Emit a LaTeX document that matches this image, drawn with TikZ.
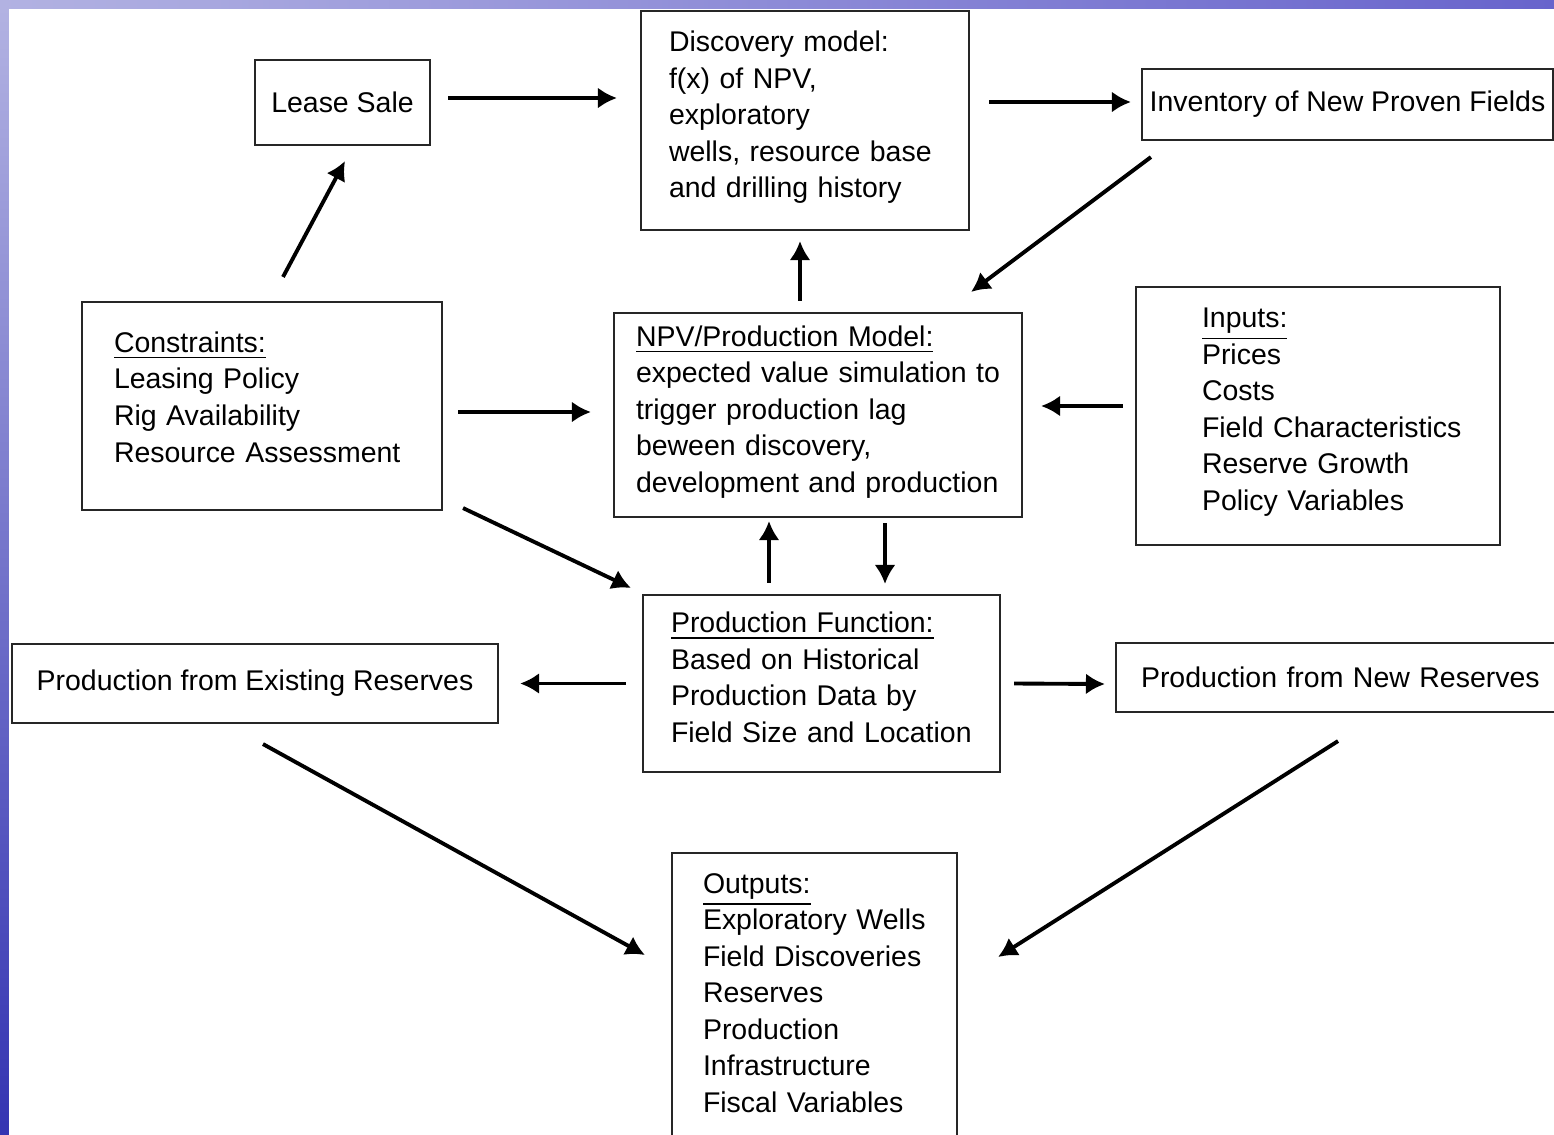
\documentclass[tikz,border=0pt]{standalone}
\usepackage{fontspec}
\setmainfont{Liberation Sans}
\usetikzlibrary{arrows.meta}

\definecolor{bglight}{RGB}{178,178,226}
\definecolor{bgright}{RGB}{104,100,204}
\definecolor{bgbottom}{RGB}{52,52,178}

\tikzset{
	box/.style={draw=black!85, line width=0.6pt, inner sep=0pt, font=\fontsize{8.1}{10.4}\selectfont},
	tbox/.style={box, align=left, execute at begin node=\setlength{\leftskip}{#1}},
	lift/.style={execute at end node=\par\kern#1},
	arr/.style={-{Latex[length=1.9mm,width=2.1mm]}, line width=1.1pt}
}

\begin{document}
\begin{tikzpicture}
	\clip (0,0) rectangle (15.54,-11.34);
	\fill[white] (0,0) rectangle (15.54,-11.34);
	\shade[left color=bglight, right color=bgright] (0,0) rectangle (15.54,-0.08);
	\shade[top color=bglight, bottom color=bgbottom] (0,-0.08) rectangle (0.09,-11.34);
	
	\node[box, minimum width=1.75cm, minimum height=0.85cm] (lease) at (3.425,-1.025) {Lease Sale};
	\node[tbox=0.28cm, lift=0.06cm, text width=3.28cm, minimum height=2.19cm] (disc) at (8.05,-1.205) {Discovery model:\\ f(x) of NPV,\\ exploratory\\ wells, resource base\\ and drilling history};
	\node[box, minimum width=4.11cm, minimum height=0.71cm] (inv) at (13.475,-1.045) {Inventory of New Proven Fields};
	
	\node[tbox=0.32cm, lift=0.18cm, text width=3.60cm, minimum height=2.08cm] (cons) at (2.62,-4.06) {\underline{Constraints:}\\ Leasing Policy\\ Rig Availability\\ Resource Assessment};
	\node[tbox=0.22cm, lift=0.06cm, text width=4.08cm, minimum height=2.04cm] (npv) at (8.18,-4.15) {\underline{NPV/Production Model:}\\ expected value simulation to\\ trigger production lag\\ beween discovery,\\ development and production};
	\node[tbox=0.66cm, lift=0.08cm, text width=3.64cm, minimum height=2.58cm] (inp) at (13.18,-4.16) {\underline{Inputs:}\\ Prices\\ Costs\\ Field Characteristics\\ Reserve Growth\\ Policy Variables};
	
	\node[tbox=0.28cm, lift=0.12cm, text width=3.57cm, minimum height=1.77cm] (prod) at (8.215,-6.835) {\underline{Production Function:}\\ Based on Historical\\ Production Data by\\ Field Size and Location};
	\node[box, minimum width=4.86cm, minimum height=0.79cm] (exist) at (2.55,-6.835) {Production from Existing Reserves};
	\node[tbox=0.25cm, text width=4.60cm, minimum height=0.69cm] (newres) at (13.46,-6.775) {Production from New Reserves};
	
	\node[tbox=0.31cm, lift=0.12cm, text width=2.85cm, minimum height=2.92cm] (outp) at (8.145,-9.99) {\underline{Outputs:}\\ Exploratory Wells\\ Field Discoveries\\ Reserves\\ Production\\ Infrastructure\\ Fiscal Variables};
	
	\draw[arr] ([shift={(0.17,0.045)}]lease.east) -- ([shift={(-0.23,0.225)}]disc.west);
	\draw[arr] ([shift={(0.19,0.185)}]disc.east) -- ([shift={(-0.10,0.025)}]inv.west);
	\draw[arr] ([shift={(0.10,-0.16)}]inv.south west) -- ([shift={(-0.52,0.20)}]npv.north east);
	\draw[arr] ([shift={(-0.18,0.11)}]npv.north) -- ([shift={(-0.05,-0.10)}]disc.south);
	\draw[arr] ([shift={(0.21,0.24)}]cons.north) -- ([shift={(0.025,-0.15)}]lease.south);
	\draw[arr] ([shift={(0.15,-0.06)}]cons.east) -- ([shift={(-0.22,0.03)}]npv.west);
	\draw[arr] ([shift={(-0.12,0.10)}]inp.west) -- ([shift={(0.18,0.09)}]npv.east);
	\draw[arr] ([shift={(0.20,0.03)}]cons.south east) -- ([shift={(-0.11,0.06)}]prod.north west);
	\draw[arr] ([shift={(-0.525,0.11)}]prod.north) -- ([shift={(-0.49,-0.03)}]npv.south);
	\draw[arr] ([shift={(0.67,-0.05)}]npv.south) -- ([shift={(0.635,0.10)}]prod.north);
	\draw[arr] ([shift={(-0.16,0)}]prod.west) -- ([shift={(0.21,0)}]exist.east);
	\draw[arr] ([shift={(0.13,0)}]prod.east) -- ([shift={(-0.10,-0.065)}]newres.west);
	\draw[arr] ([shift={(0.08,-0.20)}]exist.south) -- ([shift={(-0.26,0.44)}]outp.west);
	\draw[arr] ([shift={(-0.08,-0.28)}]newres.south) -- ([shift={(0.40,0.42)}]outp.east);
	
\end{tikzpicture}
\end{document}
